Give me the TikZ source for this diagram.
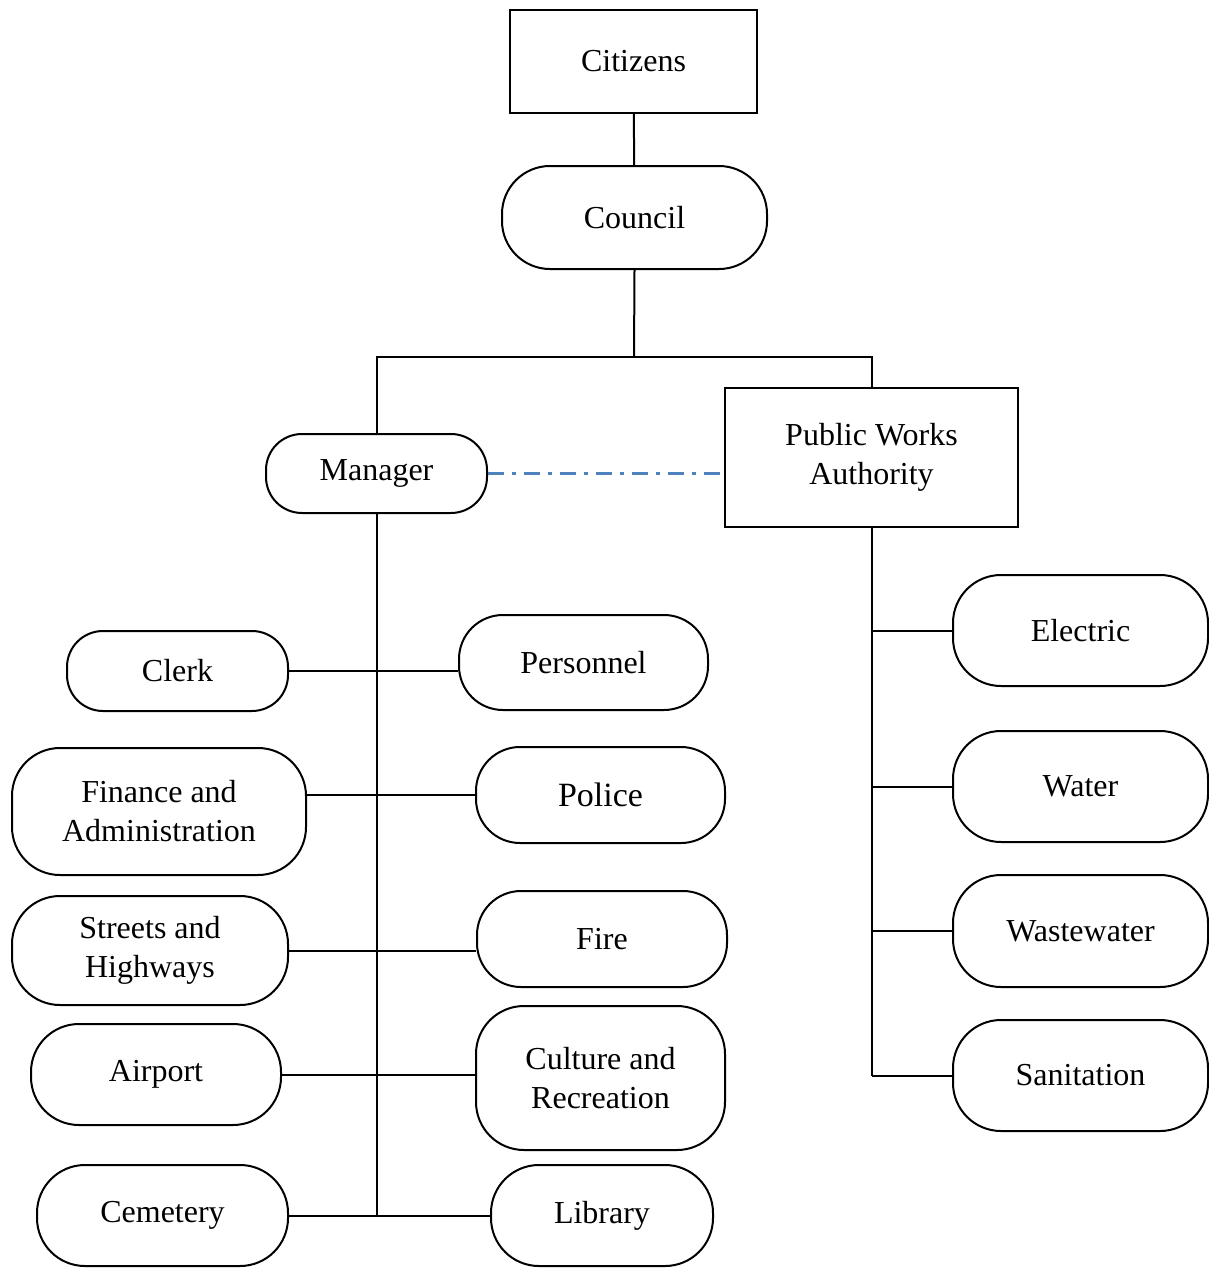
\documentclass[tikz,border=0pt]{standalone}
\usepackage{fontspec}
\setmainfont{Liberation Serif}
\usepackage{tikz}
\usetikzlibrary{calc}
\definecolor{linkblue}{RGB}{79,129,189}

\begin{document}
\begin{tikzpicture}[x = 0.5pt , y = -0.5pt , line width = 1pt ,
    every node/.style = {font = \fontsize{16}{19.5}\selectfont , align = center , inner sep = 0pt} ,
    unit/.style = {draw , rounded corners = #1} , unit/.default = 24pt ,
    office/.style = {draw , sharp corners}]
    \useasboundingbox (0,0) rectangle (1209,1268);
    % Spitze
    \node[office , minimum width = 123.5pt , minimum height = 51.5pt] (citizens) at (633.5,61.5) {Citizens};
    \node[unit , minimum width = 132.5pt , minimum height = 51.5pt] (council) at (634.5,217.5) {Council};
    \node[unit = 18pt , minimum width = 110.5pt , minimum height = 39.5pt] (manager) at (376.5,473.5) {Manager};
    \node[office , minimum width = 146.5pt , minimum height = 69.5pt] (pwa) at (871.5,457.5) {Public Works\\Authority};
    \coordinate (bus) at (634,357);
    \draw (citizens) -- (council);
    \draw (council.south) -- (bus);
    \draw (manager.north) |- (bus) -| (pwa.north);
    \draw[linkblue , line width = 1.2pt , dash pattern = on 8pt off 4pt on 2pt off 4pt] (manager.east) -- (manager.east -| pwa.west);
    % Abteilungen links
    \node[unit = 18pt , minimum width = 110.5pt , minimum height = 40pt] (clerk) at (177.5,671) {Clerk};
    \node[unit = 22pt , minimum width = 124.5pt , minimum height = 47.5pt] (personnel) at (583.5,662.5) {Personnel};
    \node[unit , minimum width = 147pt , minimum height = 63.5pt] (finance) at (159,811.5) {Finance and\\Administration};
    \node[unit = 22pt , minimum width = 124.5pt , minimum height = 48pt , font = \fontsize{17}{20}\selectfont] (police) at (600.5,795) {Police};
    \node[unit , minimum width = 138pt , minimum height = 54.5pt] (streets) at (150,950.5) {Streets and\\Highways};
    \node[unit = 22pt , minimum width = 125pt , minimum height = 48pt] (fire) at (602,939) {Fire};
    \node[unit , minimum width = 125pt , minimum height = 50.5pt] (airport) at (156,1074.5) {Airport};
    \node[unit , minimum width = 124.5pt , minimum height = 72pt] (culture) at (600.5,1078) {Culture and\\Recreation};
    \node[unit , minimum width = 125.5pt , minimum height = 50.5pt] (cemetery) at (162.5,1215.5) {Cemetery};
    \node[unit , minimum width = 111pt , minimum height = 50.5pt] (library) at (602,1215.5) {Library};
    \draw (manager.south) -- (manager.south |- cemetery.east);
    \draw (clerk.east) -- (clerk.east -| personnel.west);
    \draw (finance.east |- police.west) -- (police.west);
    \draw (streets.east) -- (streets.east -| fire.west);
    \draw (airport.east) -- (airport.east -| culture.west);
    \draw (cemetery.east) -- (cemetery.east -| library.west);
    % Abteilungen rechts
    \node[unit , minimum width = 127.5pt , minimum height = 55.5pt] (electric) at (1080.5,630.5) {Electric};
    \node[unit , minimum width = 127.5pt , minimum height = 55.5pt] (water) at (1080.5,786.5) {Water};
    \node[unit , minimum width = 127.5pt , minimum height = 56pt] (wastewater) at (1080.5,931) {Wastewater};
    \node[unit , minimum width = 127.5pt , minimum height = 55.5pt] (sanitation) at (1080.5,1075.5) {Sanitation};
    \draw (pwa.south) -- (pwa.south |- sanitation.west);
    \foreach \dept in {electric,water,wastewater,sanitation}
        \draw (pwa.south |- \dept.west) -- (\dept.west);
\end{tikzpicture}
\end{document}
